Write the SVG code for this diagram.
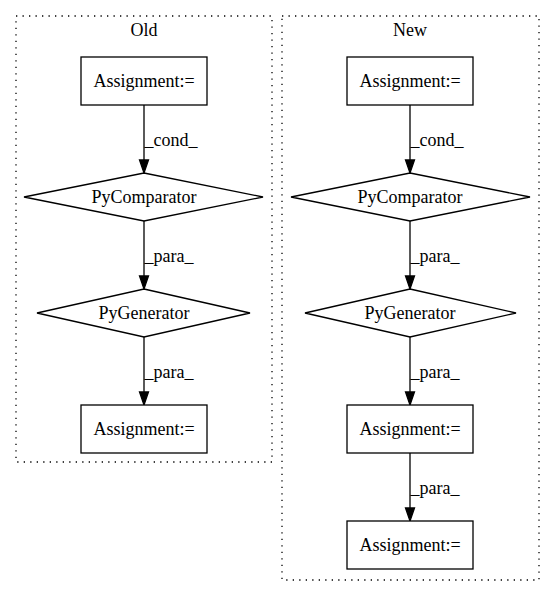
<svg xmlns="http://www.w3.org/2000/svg" width="555" height="596" viewBox="0 0 555 596">
<style>
text{font-family:"Liberation Serif","Times New Roman",serif;font-size:18px;fill:#000;text-anchor:middle}
.cl{fill:none;stroke:#000;stroke-dasharray:1.3,5.2;stroke-width:1.3}
.n{fill:#fff;stroke:#000;stroke-width:1.3}
.e{stroke:#000;stroke-width:1.3;fill:none}
.ah{fill:#000;stroke:#000;stroke-width:1.3}
</style>
<rect width="555" height="596" fill="#fff"/>
<g id="cluster_old">
<rect class="cl" x="16" y="16" width="256" height="446"/>
<text x="144" y="36">Old</text>
</g>
<g id="cluster_new">
<rect class="cl" x="282" y="16" width="257" height="564"/>
<text x="410" y="36">New</text>
</g>
<g id="connectors">
<line class="e" x1="144" y1="105" x2="144" y2="160"/>
<polygon class="ah" points="139.5,160 148.5,160 144,173"/>
<text x="171" y="146">_cond_</text>
<line class="e" x1="144" y1="221" x2="144" y2="276"/>
<polygon class="ah" points="139.5,276 148.5,276 144,289"/>
<text x="169" y="262">_para_</text>
<line class="e" x1="144" y1="337" x2="144" y2="392"/>
<polygon class="ah" points="139.5,392 148.5,392 144,405"/>
<text x="169" y="378">_para_</text>
<line class="e" x1="410" y1="105" x2="410" y2="160"/>
<polygon class="ah" points="405.5,160 414.5,160 410,173"/>
<text x="437" y="146">_cond_</text>
<line class="e" x1="410" y1="221" x2="410" y2="276"/>
<polygon class="ah" points="405.5,276 414.5,276 410,289"/>
<text x="435" y="262">_para_</text>
<line class="e" x1="410" y1="337" x2="410" y2="392"/>
<polygon class="ah" points="405.5,392 414.5,392 410,405"/>
<text x="435" y="378">_para_</text>
<line class="e" x1="410" y1="453" x2="410" y2="508"/>
<polygon class="ah" points="405.5,508 414.5,508 410,521"/>
<text x="435" y="494">_para_</text>
</g>
<g id="old_assign1">
<rect class="n" x="81" y="57" width="126" height="48"/>
<text x="144" y="87">Assignment:=</text>
</g>
<g id="old_pycomparator">
<polygon class="n" points="144,173 263,197 144,221 24,197"/>
<text x="144" y="203">PyComparator</text>
</g>
<g id="old_pygenerator">
<polygon class="n" points="144,289 250,313 144,337 37,313"/>
<text x="144" y="319">PyGenerator</text>
</g>
<g id="old_assign2">
<rect class="n" x="81" y="405" width="126" height="48"/>
<text x="144" y="435">Assignment:=</text>
</g>
<g id="new_assign1">
<rect class="n" x="347" y="57" width="126" height="48"/>
<text x="410" y="87">Assignment:=</text>
</g>
<g id="new_pycomparator">
<polygon class="n" points="410,173 530,197 410,221 291,197"/>
<text x="410" y="203">PyComparator</text>
</g>
<g id="new_pygenerator">
<polygon class="n" points="410,289 516,313 410,337 305,313"/>
<text x="410" y="319">PyGenerator</text>
</g>
<g id="new_assign2">
<rect class="n" x="347" y="405" width="126" height="48"/>
<text x="410" y="435">Assignment:=</text>
</g>
<g id="new_assign3">
<rect class="n" x="347" y="521" width="126" height="48"/>
<text x="410" y="551">Assignment:=</text>
</g>
</svg>
